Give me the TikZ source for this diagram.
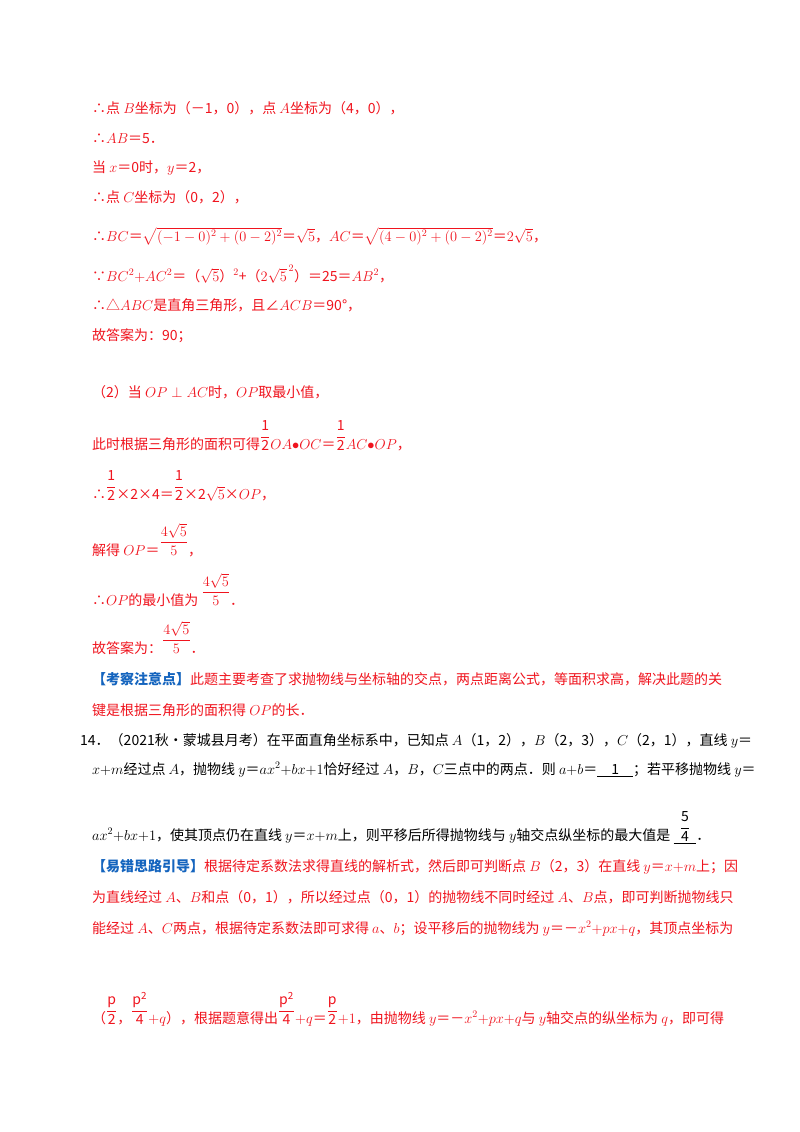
\documentclass[tikz,border=0pt]{standalone}
\usepackage{amsmath}
\usepackage{fontspec}
\setmainfont{Noto Sans CJK SC}
\definecolor{rd}{RGB}{240,20,30}
\definecolor{bl}{RGB}{20,100,190}
\newcommand{\fr}[2]{\raisebox{1.1ex}{$\dfrac{\mathrm{#1}}{\mathrm{#2}}$}}
\begin{document}
\begin{tikzpicture}[x=1pt,y=-1pt,
  ln/.style={anchor=base west,inner sep=0pt,font=\fontsize{14}{17}\selectfont,text=rd},
  bk/.style={ln,text=black}]
\useasboundingbox[fill=white] (0,0) rectangle (800,1132);
\node[ln] (l1) at (92,113) {∴点 $B$坐标为（－1，0），点 $A$坐标为（4，0），};
\node[ln] (l2) at (92,143) {∴$AB$＝5．};
\node[ln] (l3) at (92,172) {当 $x$＝0时，$y$＝2，};
\node[ln] (l4) at (92,202) {∴点 $C$坐标为（0，2），};
\node[ln] (l5) at (92,241) {∴$BC$＝$\sqrt{(-1-0)^2+(0-2)^2}$＝$\sqrt5$，$AC$＝$\sqrt{(4-0)^2+(0-2)^2}$＝$2\sqrt5$，};
\node[ln] (l6) at (92,281) {∵$BC^2{+}AC^2$＝（$\sqrt5$）$^2$+（$2\sqrt5^{\,2}$）＝25＝$AB^2$，};
\node[ln] (l7) at (92,310) {∴△$ABC$是直角三角形，且∠$ACB$＝90°，};
\node[ln] (l8) at (92,340) {故答案为：90；};
\node[ln] (l9) at (92,397) {（2）当 $OP\perp AC$时，$OP$取最小值，};
\node[ln] (l10) at (92,449) {此时根据三角形的面积可得\fr12$OA{\bullet}OC$＝\fr12$AC{\bullet}OP$，};
\node[ln] (l11) at (92,499) {∴\fr12×2×4＝\fr12×2$\sqrt5$×$OP$，};
\node[ln] (l12) at (92,555) {解得 $OP$＝\raisebox{1.2ex}{$\dfrac{4\sqrt5}{5}$}，};
\node[ln] (l13) at (92,605) {∴$OP$的最小值为 \raisebox{1.2ex}{$\dfrac{4\sqrt5}{5}$}．};
\node[ln] (l14) at (92,653) {故答案为：\raisebox{1.2ex}{$\dfrac{4\sqrt5}{5}$}．};
\node[ln] (l15) at (92,684) {\textcolor{bl}{\textbf{【考察注意点】}}此题主要考查了求抛物线与坐标轴的交点，两点距离公式，等面积求高，解决此题的关};
\node[ln] (l16) at (92,715) {键是根据三角形的面积得 $OP$的长．};
\node[bk] (l17) at (80,745) {14．（2021秋•蒙城县月考）在平面直角坐标系中，已知点 $A$（1，2），$B$（2，3），$C$（2，1），直线 $y$＝};
\node[bk] (l18) at (92,774) {$x{+}m$经过点 $A$，抛物线 $y$＝$ax^2{+}bx{+}1$恰好经过 $A$，$B$，$C$三点中的两点．则 $a{+}b$＝\underline{\quad 1\quad}；若平移抛物线 $y$＝};
\node[bk] (l19) at (92,840) {$ax^2{+}bx{+}1$，使其顶点仍在直线 $y$＝$x{+}m$上，则平移后所得抛物线与 $y$轴交点纵坐标的最大值是 \underline{\ \ \fr54\ \ }．};
\node[ln] (l20) at (92,871) {\textcolor{bl}{\textbf{【易错思路引导】}}根据待定系数法求得直线的解析式，然后即可判断点 $B$（2，3）在直线 $y$＝$x{+}m$上；因};
\node[ln] (l21) at (92,902) {为直线经过 $A$、$B$和点（0，1），所以经过点（0，1）的抛物线不同时经过 $A$、$B$点，即可判断抛物线只};
\node[ln] (l22) at (92,933) {能经过 $A$、$C$两点，根据待定系数法即可求得 $a$、$b$；设平移后的抛物线为 $y$＝－$x^2{+}px{+}q$，其顶点坐标为};
\node[ln] (l23) at (92,1023) {（\fr p2，\fr{p^2}4$+q$），根据题意得出\fr{p^2}4$+q$＝\fr p2$+1$，由抛物线 $y$＝－$x^2{+}px{+}q$与 $y$轴交点的纵坐标为 $q$，即可得};
\end{tikzpicture}
\end{document}
